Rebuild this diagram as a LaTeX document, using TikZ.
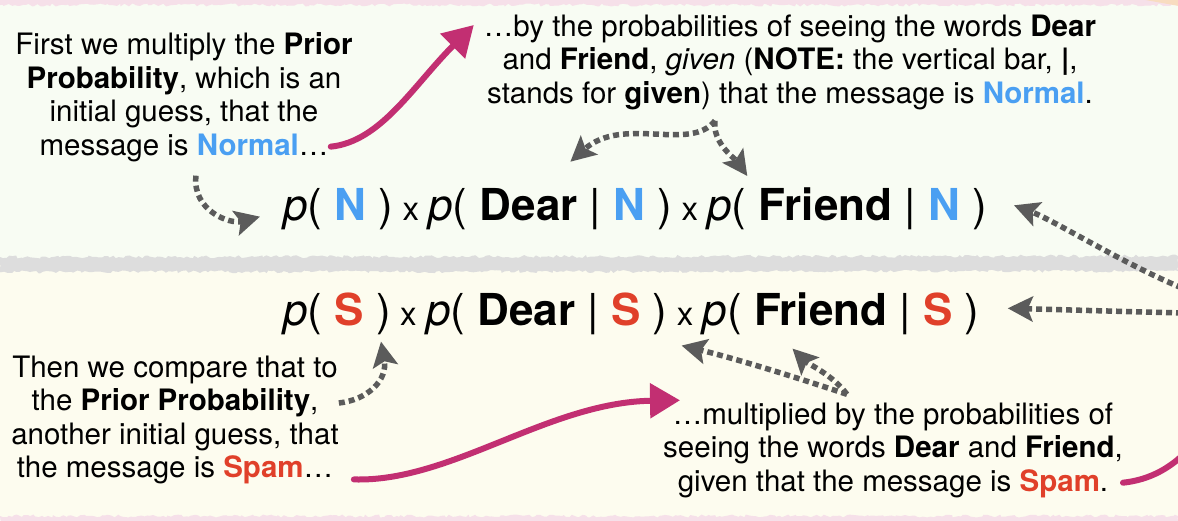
\documentclass[tikz,border=0pt]{standalone}
\usepackage{fontspec}
\setmainfont{TeX Gyre Heros}
\usetikzlibrary{arrows.meta, positioning, calc, decorations.pathmorphing}
\definecolor{nrmblue}{HTML}{4A9FF2}
\definecolor{spamred}{HTML}{E0402A}
\definecolor{brushpink}{HTML}{C22F72}
\definecolor{dotgrey}{HTML}{5B5B5B}
\definecolor{topbg}{HTML}{F8FCF3}
\definecolor{botbg}{HTML}{FDFCEF}
\definecolor{tearline}{HTML}{DDDDDD}
\definecolor{edgepink}{HTML}{F6E0E9}
\definecolor{edgeorange}{HTML}{F8DCC0}
\newcommand{\Nrm}{\textbf{\color{nrmblue}N}}
\newcommand{\Spm}{\textbf{\color{spamred}S}}
\newcommand{\pp}{\textit{p}(}

\begin{document}
\begin{tikzpicture}[
    x=1pt, y=-1pt,
    note/.style={align=center, inner sep=0pt, font=\fontsize{29.5}{33.5}\selectfont},
    factor/.style={inner sep=0pt, anchor=base west, font=\fontsize{44}{48}\selectfont},
    times/.style={inner xsep=9pt, inner ysep=0pt, anchor=base west, font=\fontsize{33}{35}\selectfont},
    dots/.style={dotgrey, line width=5.5pt, dash pattern=on 6pt off 4pt, -{Stealth[length=25pt, width=25pt, inset=5pt]}},
    brush/.style={brushpink, line width=6pt, line cap=round, -{Triangle[length=30pt, width=34pt]}},
    brushline/.style={brushpink, line width=6pt, line cap=round},
    torn/.style={decorate, decoration={random steps, segment length=3pt, amplitude=1.5pt}}
]
\useasboundingbox (0,0) rectangle (1178,520);

% Paper
\fill[topbg] (0,0) rectangle (1178,263);
\fill[botbg] (0,263) rectangle (1178,520);
\fill[edgepink, torn] (0,-3) -- (1178,-3) -- (1178,5) -- (0,5) -- cycle;
\fill[edgeorange] (1140,-1) -- (1179,-1) -- (1179,6) -- cycle;
\fill[tearline, torn] (0,257) -- (1178,256) -- (1178,271) -- (0,272) -- cycle;
\fill[edgepink, torn] (0,516) -- (1178,516) -- (1178,523) -- (0,523) -- cycle;

% Notes
\node[note] (priorN) at (184,97) {First we multiply the \textbf{Prior}\\ \textbf{Probability}, which is an\\ initial guess, that the\\ message is \textbf{\color{nrmblue}Normal}…};
\node[note] (likeN) at (790,62) {…by the probabilities of seeing the words \textbf{Dear}\\ and \textbf{Friend}, \textit{given} (\textbf{NOTE:} the vertical bar, \textbf{|},\\ stands for \textbf{given}) that the message is \textbf{\color{nrmblue}Normal}.};
\node[note] (priorS) at (175,420) {Then we compare that to\\ the \textbf{Prior Probability},\\ another initial guess, that\\ the message is \textbf{\color{spamred}Spam}…};
\node[note] (likeS) at (893,450) {…multiplied by the probabilities of\\ seeing the words \textbf{Dear} and \textbf{Friend},\\ given that the message is \textbf{\color{spamred}Spam}.};

% Normal row
\node[factor] (pN) at (283,220) {\pp\ \Nrm\ )};
\node[times] (xNa) at (pN.base east) {x};
\node[factor] (pDN) at (xNa.base east) {\pp\ \textbf{Dear} | \Nrm\ )};
\node[times] (xNb) at (pDN.base east) {x};
\node[factor] (pFN) at (xNb.base east) {\pp\ \textbf{Friend} | \Nrm\ )};

% Spam row
\node[factor] (pS) at (283,325) {\pp\ \Spm\ )};
\node[times] (xSa) at (pS.base east) {x};
\node[factor] (pDS) at (xSa.base east) {\pp\ \textbf{Dear} | \Spm\ )};
\node[times] (xSb) at (pDS.base east) {x};
\node[factor] (pFS) at (xSb.base east) {\pp\ \textbf{Friend} | \Spm\ )};

\coordinate (rimN) at (1182,288);
\coordinate (rimS) at (1182,313);
\coordinate (rimB) at (1186,452);

% Brush arrows
\draw[brush] ($(priorN.south east)+(-22,-15)$) .. controls +(50,-5) and +(-60,60) .. ($(likeN.west)+(-10,-37)$);
\draw[brush] ($(priorS.south east)+(15,-5)$) .. controls +(97,3) and +(-132,2) .. ($(likeS.north west)+(17,-2)$);
\draw[brushline] ($(likeS.south east)+(0,-15)$) .. controls +(28,-3) and +(-15,15) .. (rimB);

% Dotted arrows
\draw[dots] ($(priorN.south)+(12,14)$) .. controls +(-4,35) and +(-30,8) .. ($(pN.west)+(-23,8)$);
\draw[dots] ($(likeN.south)+(-75,11)$) .. controls +(-25,32) and +(53,-47) .. ($(pDN.north)+(20,-26)$);
\draw[dots] ($(likeN.south)+(-75,11)$) .. controls +(-3,22) and +(-12,-17) .. ($(pFN.north west)+(40,-11)$);
\draw[dots] (rimN) .. controls +(-60,-25) and +(40,15) .. ($(pFN.east)+(27,-3)$);
\draw[dots] (rimS) -- ($(pFS.east)+(28,-5)$);
\draw[dots] ($(likeS.north)+(-46,-8)$) .. controls +(-60,-20) and +(50,12) .. ($(pDS.south east)+(14,11)$);
\draw[dots] ($(likeS.north)+(-46,-8)$) .. controls +(-15,-20) and +(15,15) .. ($(pFS.south west)+(90,14)$);
\draw[dots] ($(priorS.east)+(0,-17)$) .. controls +(28,-3) and +(7,39) .. ($(pS.south east)+(-10,7)$);

\end{tikzpicture}
\end{document}
